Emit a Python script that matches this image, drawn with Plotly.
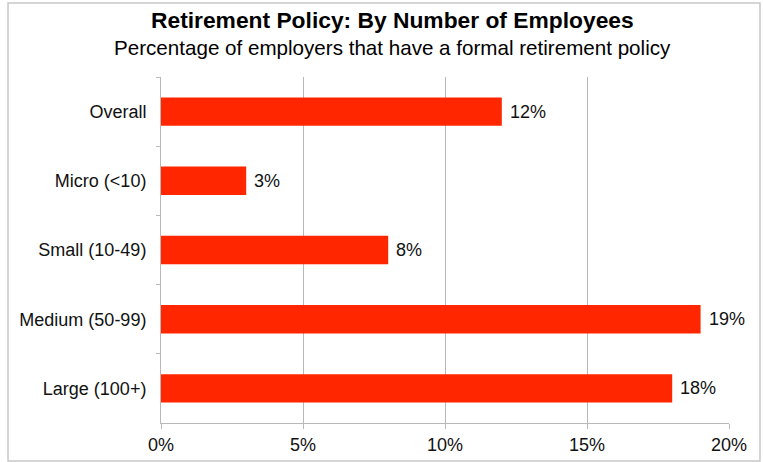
import plotly.graph_objects as go

categories = ["Overall", "Micro (<10)", "Small (10-49)", "Medium (50-99)", "Large (100+)"]
values = [12, 3, 8, 19, 18]
tick_vals = [0, 5, 10, 15, 20]
tick_text = ["0%", "5%", "10%", "15%", "20%"]
title_text = "Retirement Policy: By Number of Employees"
subtitle_text = "Percentage of employers that have a formal retirement policy"

W, H = 763, 462
L, R, T, B = 161, 34, 77, 39
pw, ph = W - L - R, H - T - B

FONT = "Liberation Sans, Arial, Helvetica, sans-serif"
GRID = "#b8b8b8"

fig = go.Figure(go.Bar(
    y=categories, x=values, orientation="h",
    marker=dict(color="#ff2600", line=dict(width=0)),
    width=0.41,
))

for c, v in zip(categories, values):
    fig.add_annotation(x=v, y=c, text=f"{v}%", showarrow=False,
                       xanchor="left", xshift=6,
                       font=dict(family=FONT, size=18, color="#111"))

def px(xp):
    return (xp - L) / pw

def py(yp):
    return (H - B - yp) / ph

fig.add_shape(type="rect", xref="paper", yref="paper",
              x0=px(8), x1=px(760), y0=py(461), y1=py(3),
              line=dict(color="#c8c8c8", width=1.5), layer="below")

fig.add_annotation(xref="paper", yref="paper", x=px(392), y=py(20),
                   text=f"<b>{title_text}</b>", showarrow=False,
                   xanchor="center", yanchor="middle",
                   font=dict(family=FONT, size=22.8, color="#000"))
fig.add_annotation(xref="paper", yref="paper", x=px(392), y=py(47),
                   text=subtitle_text, showarrow=False,
                   xanchor="center", yanchor="middle",
                   font=dict(family=FONT, size=20.6, color="#000"))

fig.update_layout(
    width=W, height=H,
    margin=dict(l=L, r=R, t=T, b=B, autoexpand=False),
    paper_bgcolor="white", plot_bgcolor="white",
    showlegend=False,
    font=dict(family=FONT, size=18, color="#111"),
    xaxis=dict(
        range=[0, 20], tickvals=tick_vals, ticktext=tick_text,
        automargin=False,
        showgrid=True, gridcolor=GRID, gridwidth=1,
        showline=True, linecolor=GRID, linewidth=1,
        ticks="outside", ticklen=5, tickcolor=GRID,
        tickfont=dict(family=FONT, size=18, color="#111"),
        zeroline=False, fixedrange=True,
    ),
    yaxis=dict(
        categoryorder="array", categoryarray=categories,
        autorange="reversed", automargin=False,
        showline=True, linecolor=GRID, linewidth=1,
        ticks="outside", ticklen=4, tickcolor=GRID,
        tickson="boundaries",
        ticklabelstandoff=10,
        tickfont=dict(family=FONT, size=18, color="#111"),
        showgrid=False, fixedrange=True,
    ),
)

fig.write_html("out.html")
